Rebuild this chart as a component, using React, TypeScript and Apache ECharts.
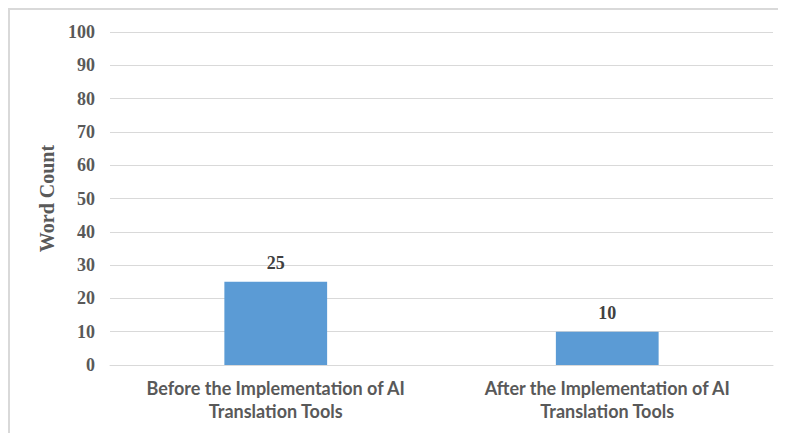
import React, { useEffect, useRef } from "react";
import * as echarts from "echarts";

const categories = [
  "Before the Implementation of AI\nTranslation Tools",
  "After the Implementation of AI\nTranslation Tools",
];
const wordCounts = [25, 10];
const yAxisName = "Word Count";
const yMin = 0;
const yMax = 100;
const yInterval = 10;

export default function App() {
  const ref = useRef<HTMLDivElement>(null);
  useEffect(() => {
    if (!ref.current) return;
    const chart = echarts.init(ref.current, undefined, { renderer: "svg" });
    chart.setOption({
      animation: false,
      backgroundColor: "#ffffff",
      grid: { left: 100, right: 13, top: 22, bottom: 68 },
      xAxis: {
        type: "category",
        data: categories,
        axisLine: { show: true, lineStyle: { color: "#d9d9d9", width: 1 } },
        axisTick: { show: false },
        axisLabel: {
          color: "#595959",
          fontFamily: "Lato, 'Open Sans', sans-serif",
          fontWeight: "bold",
          fontSize: 18,
          lineHeight: 23,
          margin: 11,
          interval: 0,
        },
      },
      yAxis: {
        type: "value",
        min: yMin,
        max: yMax,
        interval: yInterval,
        name: yAxisName,
        nameLocation: "middle",
        nameGap: 52,
        nameTextStyle: {
          color: "#595959",
          fontFamily: "'Liberation Serif', 'Times New Roman', serif",
          fontWeight: "bold",
          fontSize: 20,
        },
        axisLine: { show: false },
        axisTick: { show: false },
        splitLine: { lineStyle: { color: "#d9d9d9", width: 1 } },
        axisLabel: {
          color: "#595959",
          fontFamily: "'Liberation Serif', 'Times New Roman', serif",
          fontWeight: "bold",
          fontSize: 18,
          margin: 15,
        },
      },
      series: [
        {
          type: "bar",
          data: wordCounts,
          barWidth: "31%",
          itemStyle: { color: "#5b9bd5" },
          label: {
            show: true,
            position: "top",
            distance: 10,
            color: "#404040",
            fontFamily: "'Liberation Serif', 'Times New Roman', serif",
            fontWeight: "bold",
            fontSize: 18,
          },
        },
      ],
    });
    return () => chart.dispose();
  }, []);
  return (
    <div
      style={{
        width: 778,
        height: 425,
        boxSizing: "border-box",
        borderTop: "2px solid #d9d9d9",
        borderLeft: "2px solid #d9d9d9",
        overflow: "hidden",
      }}
    >
      <div ref={ref} style={{ width: 776, height: 423 }} />
    </div>
  );
}
